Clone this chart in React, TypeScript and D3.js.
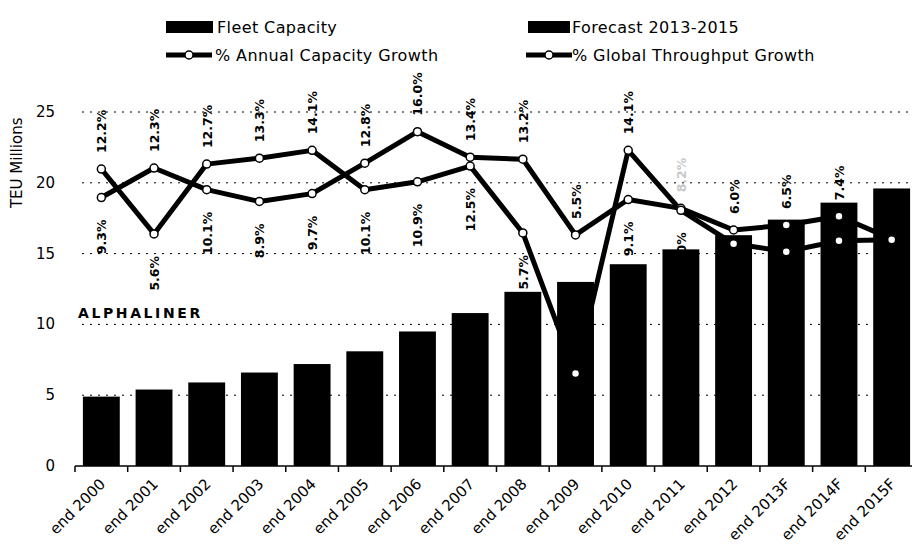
import * as d3 from "d3";

const years = [
  "end 2000", "end 2001", "end 2002", "end 2003", "end 2004", "end 2005", "end 2006", "end 2007",
  "end 2008", "end 2009", "end 2010", "end 2011", "end 2012", "end 2013F", "end 2014F", "end 2015F"
];
const forecastYears = ["end 2013F", "end 2014F", "end 2015F"];
const fleetCapacity = [4.9, 5.4, 5.9, 6.6, 7.2, 8.1, 9.5, 10.8, 12.3, 13.0, 14.25, 15.3, 16.3, 17.4, 18.6, 19.6];
const capacityGrowth = [9.3, 12.3, 10.1, 8.9, 9.7, 12.8, 16.0, 13.4, 13.2, 5.5, 9.1, 8.2, 6.0, 6.5, 7.4, 5.1];
const throughputGrowth = [12.2, 5.6, 12.7, 13.3, 14.1, 10.1, 10.9, 12.5, 5.7, -8.6, 14.1, 8.0, 4.6, 3.8, 4.9, 5.0];
const yTicks = [0, 5, 10, 15, 20, 25];
const faintLabelYears = ["end 2011"];

const width = 912;
const height = 551;
const font = "DejaVu Sans, Verdana, sans-serif";

const x = d3.scaleBand<string>().domain(years).range([75, 918]).paddingInner(0.3).paddingOuter(0.15);
const y = d3.scaleLinear().domain([0, 25]).range([466, 112]);
// secondary (hidden) percentage axis
const yPct = d3.scaleLinear().domain([-18, 18]).range([466, 112]);

const cx = (year: string) => (x(year) ?? 0) + x.bandwidth() / 2;

const pctLine = d3
  .line<number>()
  .x((_, i) => cx(years[i]))
  .y((d) => yPct(d));

function fmt(v: number) {
  return `${v.toFixed(1)}%`;
}

function LegendLine({ lx, ly }: { lx: number; ly: number }) {
  return (
    <g>
      <line x1={lx} x2={lx + 46} y1={ly} y2={ly} stroke="#000" strokeWidth={5} />
      <circle cx={lx + 23} cy={ly} r={4} fill="#fff" stroke="#000" strokeWidth={1.5} />
    </g>
  );
}

export default function App() {
  const step = x.step();
  const tickXs = d3.range(years.length + 1).map((k) => 75 + k * step);

  const labels = years.flatMap((year, i) => {
    const c = capacityGrowth[i];
    const t = throughputGrowth[i];
    const faint = faintLabelYears.includes(year);
    return [
      { key: `${year}-hi`, year, v: Math.max(c, t), above: true, faint },
      { key: `${year}-lo`, year, v: Math.min(c, t), above: false, faint: false }
    ];
  });

  const legendText = { fontFamily: font, fontSize: 16, letterSpacing: 0.4, fill: "#000" };

  return (
    <div style={{ position: "absolute", left: 0, top: 0 }}>
      <svg width={width} height={height} viewBox={`0 0 ${width} ${height}`} style={{ display: "block", background: "#fff" }}>
        {/* gridlines */}
        {yTicks.filter((t) => t > 0).map((t) => (
          <line key={t} x1={82} x2={width} y1={y(t)} y2={y(t)} stroke="#000" strokeWidth={1} strokeDasharray="2 6" />
        ))}
        {yTicks.map((t) => (
          <text key={t} x={55} y={y(t) + 5} textAnchor="end" fontFamily={font} fontSize={15} fill="#000">
            {t}
          </text>
        ))}
        <text
          transform={`translate(22,${y(20) - 20}) rotate(-90)`}
          textAnchor="middle"
          fontFamily={font}
          fontSize={15}
          fill="#000"
        >
          TEU Millions
        </text>

        {/* bars */}
        {years.map((year, i) => (
          <rect
            key={year}
            x={x(year)}
            y={y(fleetCapacity[i])}
            width={x.bandwidth()}
            height={y(0) - y(fleetCapacity[i])}
            fill={forecastYears.includes(year) ? "#000" : "#000"}
          />
        ))}

        {/* x axis */}
        <line x1={75} x2={width} y1={y(0)} y2={y(0)} stroke="#000" strokeWidth={1.5} />
        {tickXs.map((tx) => (
          <line key={tx} x1={tx} x2={tx} y1={y(0)} y2={y(0) + 6} stroke="#000" strokeWidth={1.5} />
        ))}
        {years.map((year) => (
          <text
            key={year}
            transform={`translate(${cx(year) + 5},${y(0) + 19}) rotate(-45)`}
            textAnchor="end"
            fontFamily={font}
            fontSize={15}
            fill="#000"
          >
            {year}
          </text>
        ))}

        <text x={78} y={318} fontFamily={font} fontSize={14} fontWeight="bold" letterSpacing={2.6} fill="#000">
          ALPHALINER
        </text>

        {/* lines */}
        <path d={pctLine(throughputGrowth) ?? ""} fill="none" stroke="#000" strokeWidth={5} strokeLinejoin="round" />
        <path d={pctLine(capacityGrowth) ?? ""} fill="none" stroke="#000" strokeWidth={5} strokeLinejoin="round" />
        {[capacityGrowth, throughputGrowth].map((series, s) =>
          series.map((v, i) => (
            <circle key={`${s}-${i}`} cx={cx(years[i])} cy={yPct(v)} r={4} fill="#fff" stroke="#000" strokeWidth={1.5} />
          ))
        )}

        {/* value labels */}
        {labels.map((l) => (
          <text
            key={l.key}
            transform={`translate(${cx(l.year) + 5},${yPct(l.v) + (l.above ? -16 : 22)}) rotate(-90)`}
            textAnchor={l.above ? "start" : "end"}
            fontFamily={font}
            fontSize={12.5}
            fontWeight="bold"
            fill={l.faint ? "#c8c8c8" : "#000"}
          >
            {fmt(l.v)}
          </text>
        ))}

        {/* legend */}
        <rect x={166} y={21} width={47} height={12} fill="#000" />
        <text x={217} y={33} {...legendText}>Fleet Capacity</text>
        <rect x={528} y={21} width={42} height={12} fill="#000" />
        <text x={572} y={33} {...legendText}>Forecast 2013-2015</text>
        <LegendLine lx={166} ly={55} />
        <text x={215} y={61} {...legendText}>% Annual Capacity Growth</text>
        <LegendLine lx={526} ly={55} />
        <text x={572} y={61} {...legendText}>% Global Throughput Growth</text>
      </svg>
    </div>
  );
}
